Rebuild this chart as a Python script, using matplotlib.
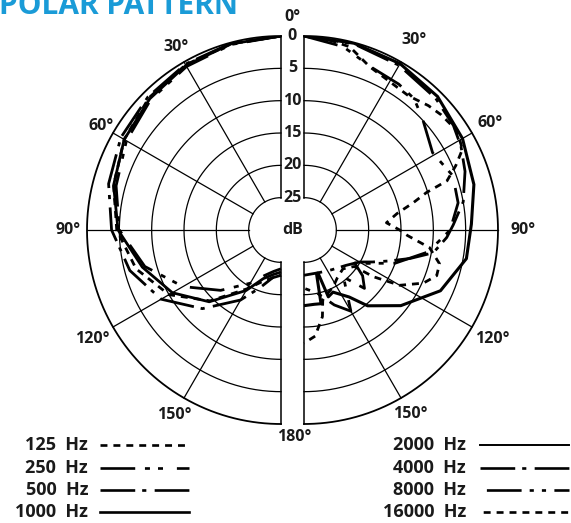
import numpy as np
import matplotlib.pyplot as plt
from matplotlib.transforms import offset_copy

plt.rcParams['font.family'] = ['Open Sans', 'DejaVu Sans']
plt.rcParams['lines.scale_dashes'] = False

# ---- data: attenuation in dB vs angle in degrees ----
# left half: low frequencies
ang_left = [0, 15, 30, 45, 60, 75, 90, 105, 120, 135, 150, 160, 170, 180]
att_125 = [0, 0.2, 0.5, 1.1, 2.0, 3.2, 4.6, 6.8, 10.0, 14.5, 19.5, 21.5, 22.5, 23.0]
att_250 = [0, 0.3, 0.8, 1.5, 2.4, 3.6, 5.0, 8.2, 12.5, 16.8, 20.5, 22.5, 23.5, 24.0]
att_500 = [0, 0.1, 0.4, 0.9, 1.4, 2.4, 3.8, 5.8, 8.6, 12.8, 17.5, 20.5, 22.5, 23.0]
att_1000 = [0, 0.2, 0.6, 1.3, 2.0, 3.2, 4.8, 7.8, 10.6, 14.3, 19.2, 22.0, 23.0, 23.5]

# right half: high frequencies
ang_2000 = [0, 15, 30, 45, 60, 75, 88, 100, 114, 128, 140, 146, 155, 160, 162, 164, 167, 172, 180]
att_2000 = [0, 0.1, 0.3, 0.8, 1.7, 2.8, 4.1, 4.5, 6.9, 11.0, 14.7, 17.5, 19.4, 19.0, 23.0, 23.0, 18.3, 18.4, 18.3]
ang_4000 = [0, 15, 30, 45, 55, 62, 70, 80, 88, 93, 100, 105, 110, 115, 120, 130, 145, 160, 180]
att_4000 = [0, 0.2, 0.6, 1.2, 1.8, 2.5, 3.5, 5.0, 6.9, 7.9, 9.7, 13.0, 16.0, 18.3, 20.1, 21.5, 22.5, 23.0, 23.0]
ang_8000 = [0, 12, 23, 33, 40, 47, 59, 70, 80, 90, 100, 110, 118, 122, 128, 134, 140, 150, 158, 168, 180]
att_8000 = [0, 1.0, 2.8, 3.1, 3.5, 4.9, 6.8, 5.5, 5.8, 7.4, 10.5, 15.0, 19.0, 21.0, 18.5, 17.0, 20.5, 15.5, 17.5, 20.0, 21.0]
ang_16000 = [0, 8, 14, 22, 30, 38, 45, 50, 57, 63, 67, 71, 73, 76, 80, 85, 90, 93, 98, 104, 109,
             114, 120, 124, 126, 135, 145, 153, 160, 165, 168, 174, 180]
att_16000 = [0, 0.4, 0.8, 2.8, 3.5, 3.7, 2.8, 2.3, 1.8, 2.5, 4.5, 6.6, 10.2, 12.6, 15.4, 17.2, 15.2, 14.0,
             10.4, 8.4, 8.3, 9.8, 12.9, 17.1, 20.4, 21.5, 21.0, 20.1, 19.5, 18.8, 16.3, 13.5, 12.5]

ring_labels = ['0', '5', '10', '15', '20', '25']
angle_ticks = [30, 60, 90, 120, 150]

# dash styles (points)
st_dash = (0, (5, 4.3))
st_dd2 = (0, (25, 7, 3.6, 5.8, 3.6, 10))
st_dd1 = (0, (25, 5, 3, 6))
st_solid = '-'

RMAX = 30.0
W, H = 571, 523
R_PX = 194

fig = plt.figure(figsize=(W / 100, H / 100), dpi=100)


def make_half(cx, direction):
    ax = fig.add_axes([(cx - R_PX) / W, (H - 230 - R_PX) / H, 2 * R_PX / W, 2 * R_PX / H],
                      projection='polar')
    ax.set_theta_zero_location('N')
    ax.set_theta_direction(direction)
    ax.set_ylim(0, RMAX)
    ax.set_axis_off()
    ax.patch.set_alpha(0)
    arc = np.radians(np.linspace(0, 180, 300))
    for r in [5, 10, 15, 20, 25]:
        ax.plot(arc, np.full_like(arc, r), color='black', lw=0.9, clip_on=False)
    ax.plot(arc, np.full_like(arc, RMAX), color='black', lw=1.3, clip_on=False)
    for a in angle_ticks:
        ax.plot([np.radians(a)] * 2, [5, RMAX], color='black', lw=0.9, clip_on=False)
    for a in [0, 180]:
        ax.plot([np.radians(a)] * 2, [5, RMAX], color='black', lw=1.1, clip_on=False)
    return ax


ax_l = make_half(281, 1)
ax_r = make_half(304, -1)


def curve(ax, ang, att, style, lw=2.0):
    ax.plot(np.radians(ang), RMAX - np.array(att), color='black', lw=lw, linestyle=style,
            solid_capstyle='butt', dash_capstyle='butt')


curve(ax_l, ang_left, att_125, st_dash)
curve(ax_l, ang_left, att_250, st_dd2)
curve(ax_l, ang_left, att_500, st_dd1)
curve(ax_l, ang_left, att_1000, st_solid)
curve(ax_r, ang_2000, att_2000, st_solid, lw=2.2)
curve(ax_r, ang_4000, att_4000, st_dd1)
curve(ax_r, ang_8000, att_8000, st_dd2)
curve(ax_r, ang_16000, att_16000, st_dash)

tkw = dict(fontsize=11.5, fontweight='bold', ha='center', va='center', color='#1a1a1a')

# angle labels
lab_r_left = [32.6, 32.2, 33.0, 33.7, 33.1]
lab_r_right = [34.0, 33.2, 33.9, 33.6, 32.8]
for a, rl, rr in zip(angle_ticks, lab_r_left, lab_r_right):
    ax_l.text(np.radians(a), rl, f'{a}°', **tkw)
    ax_r.text(np.radians(a), rr, f'{a}°', **tkw)

# ring labels in the middle gap
mid = offset_copy(ax_l.transData, fig=fig, x=11.5, y=0, units='dots')
for i, lab in enumerate(ring_labels):
    ax_l.text(0, RMAX - 5 * i, lab, transform=mid, **tkw)
ax_l.text(0, 32.9, '0°', transform=mid, **tkw)
ax_l.text(np.pi, 32.0, '180°', transform=offset_copy(ax_l.transData, fig=fig, x=13, y=0, units='dots'), **tkw)
ax_l.text(0, 0, 'dB', transform=mid, **tkw)

# overlay for title and legend (pixel coords)
ov = fig.add_axes([0, 0, 1, 1])
ov.set_xlim(0, W)
ov.set_ylim(H, 0)
ov.set_axis_off()
ov.patch.set_alpha(0)

ov.text(-1, 14, 'POLAR PATTERN', color='#1a9bd7', fontsize=21.5, fontweight='bold',
        ha='left', va='baseline')

leg_left = [('125  Hz', st_dash), ('250  Hz', st_dd2), ('500  Hz', st_dd1), ('1000  Hz', st_solid)]
leg_right = [('2000  Hz', st_solid), ('4000  Hz', st_dd1), ('8000  Hz', (44, (25, 5.8, 3, 5.8, 3, 6))),
             ('16000  Hz', (7, (5, 4.3)))]
rows_y = [445, 468, 490, 512]
for (lab, st), y in zip(leg_left, rows_y):
    ov.text(88, y, lab, fontsize=13, fontweight='bold', ha='right', va='center', color='#1a1a1a')
    ov.plot([100, 189], [y, y], color='black', lw=1.9, linestyle=st)
for (lab, st), y in zip(leg_right, rows_y):
    ov.text(466, y, lab, fontsize=13, fontweight='bold', ha='right', va='center', color='#1a1a1a')
    ov.plot([480, 569], [y, y], color='black', lw=1.9 if st != '-' else 1.4, linestyle=st)

fig.savefig('out.png', dpi=100)
